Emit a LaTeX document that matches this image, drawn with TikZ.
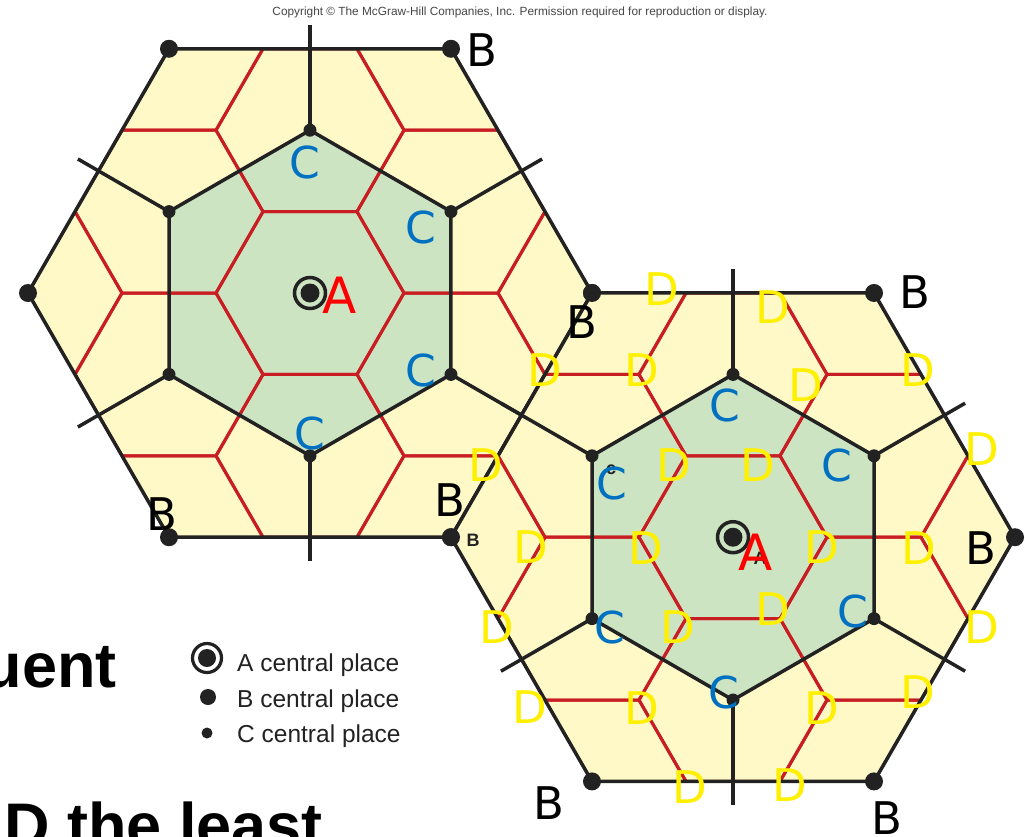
\documentclass[tikz,border=0pt]{standalone}
\usepackage{fontspec}
\setmainfont{DejaVu Sans}
\newfontfamily\arialf{Liberation Sans}
\definecolor{hexyellow}{RGB}{255,249,200}
\definecolor{hexgreen}{RGB}{205,228,195}
\definecolor{cellred}{RGB}{200,30,35}
\definecolor{linedark}{RGB}{34,34,34}
\definecolor{cblue}{RGB}{0,112,192}
\definecolor{dyellow}{RGB}{255,240,0}
\definecolor{copygray}{RGB}{70,70,70}
\tikzset{
  blk/.style={draw=linedark, line width=3.5pt, line join=round},
  redl/.style={draw=cellred, line width=3pt, line join=round},
  lblB/.style={text=black, font=\fontsize{45}{45}\selectfont, inner sep=0pt},
  lblC/.style={text=cblue, font=\fontsize{44}{44}\selectfont, inner sep=0pt},
  lblD/.style={text=dyellow, font=\fontsize{45}{45}\selectfont, inner sep=0pt},
  lblA/.style={text=red, font=\fontsize{50}{50}\selectfont, inner sep=0pt},
  tinylbl/.style={text=linedark, font=\arialf\bfseries\fontsize{18}{18}\selectfont, inner sep=0pt},
  legtxt/.style={text=linedark, font=\arialf\fontsize{24.5}{24.5}\selectfont, inner sep=0pt, anchor=base west},
  bigtxt/.style={text=black, font=\arialf\bfseries\fontsize{63}{63}\selectfont, inner sep=0pt},
}
\newcommand{\placemap}[2]{%
\begin{scope}[shift={(#1,#2)}]
  \fill[hexyellow] (0:282)--(60:282)--(120:282)--(180:282)--(240:282)--(300:282)--cycle;
  \fill[hexgreen] (30:162.8)--(90:162.8)--(150:162.8)--(210:162.8)--(270:162.8)--(330:162.8)--cycle;
  \begin{scope}
    \clip (0:282)--(60:282)--(120:282)--(180:282)--(240:282)--(300:282)--cycle;
    \draw[redl] (0:94)--(60:94)--(120:94)--(180:94)--(240:94)--(300:94)--cycle;
    \foreach \a in {30,90,150,210,270,330}{
      \draw[redl,shift={(\a:162.8)}] (0:94)--(60:94)--(120:94)--(180:94)--(240:94)--(300:94)--cycle;}
    \foreach \a in {0,60,120,180,240,300}{
      \draw[redl,shift={(\a:282)}] (0:94)--(60:94)--(120:94)--(180:94)--(240:94)--(300:94)--cycle;}
  \end{scope}
  \draw[blk] (0:282)--(60:282)--(120:282)--(180:282)--(240:282)--(300:282)--cycle;
  \draw[blk] (30:162.8)--(90:162.8)--(150:162.8)--(210:162.8)--(270:162.8)--(330:162.8)--cycle;
  \foreach \a in {30,90,150,210,270,330}{\draw[blk] (\a:162.8)--(\a:268);}
  \foreach \a in {0,60,120,180,240,300}{\fill[linedark] (\a:282) circle (9);}
  \foreach \a in {30,90,150,210,270,330}{\fill[linedark] (\a:162.8) circle (6.5);}
  \draw[linedark, line width=3.5pt] (0,0) circle (15.5);
  \fill[linedark] (0,0) circle (9.5);
\end{scope}}
\begin{document}
\begin{tikzpicture}[x=1pt,y=-1pt]
\useasboundingbox (0,0) rectangle (1025,836);
\fill[white] (0,0) rectangle (1025,836);
\node[inner sep=0pt, text=copygray] (copy) at (520,12.5) {\resizebox{495pt}{!}{\arialf Copyright \textcopyright{} The McGraw-Hill Companies, Inc. Permission required for reproduction or display.}};
\placemap{310}{293}
\placemap{733}{537.2}
% left map labels
\node[lblB] (lb1) at (482,50) {B};
\node[lblB] (lb2) at (582,322) {B};
\node[lblB] (lb3) at (162,514) {B};
\node[lblB] (lb4) at (450,500) {B};
\node[tinylbl] (lbs) at (473,540) {B};
\node[lblC] (lc1) at (305,162) {C};
\node[lblC] (lc2) at (421,227) {C};
\node[lblC] (lc3) at (421,370) {C};
\node[lblC] (lc4) at (310,433) {C};
\node[lblA] (la1) at (340,295) {A};
% right map labels
\node[tinylbl] (rcs) at (611,470) {c};
\node[tinylbl] (ras) at (760,558) {A};
\node[lblC] (rc1) at (725,405) {C};
\node[lblC] (rc2) at (612,483) {C};
\node[lblC] (rc3) at (837,465) {C};
\node[lblC] (rc4) at (610,627) {C};
\node[lblC] (rc5) at (853,611) {C};
\node[lblC] (rc6) at (724,692) {C};
\node[lblA] (ra1) at (756,552) {A};
\node[lblB] (rb1) at (915,292) {B};
\node[lblB] (rb2) at (981,548) {B};
\node[lblB] (rb3) at (549,803) {B};
\node[lblB] (rb4) at (887,818) {B};
\node[lblD] (d1) at (662,289) {D};
\node[lblD] (d2) at (773,307) {D};
\node[lblD] (d3) at (642,370) {D};
\node[lblD] (d4) at (806,385) {D};
\node[lblD] (d5) at (918,370) {D};
\node[lblD] (d6) at (545,370) {D};
\node[lblD] (d7) at (486,465) {D};
\node[lblD] (d8) at (674,465) {D};
\node[lblD] (d9) at (758,465) {D};
\node[lblD] (d10) at (982,449) {D};
\node[lblD] (d11) at (531,547) {D};
\node[lblD] (d12) at (646,548) {D};
\node[lblD] (d13) at (822,547) {D};
\node[lblD] (d14) at (919,548) {D};
\node[lblD] (d15) at (497,627) {D};
\node[lblD] (d16) at (678,627) {D};
\node[lblD] (d17) at (773,609) {D};
\node[lblD] (d18) at (982,627) {D};
\node[lblD] (d19) at (530,707) {D};
\node[lblD] (d20) at (642,708) {D};
\node[lblD] (d21) at (822,708) {D};
\node[lblD] (d22) at (918,692) {D};
\node[lblD] (d23) at (690,787) {D};
\node[lblD] (d24) at (790,785) {D};
% legend
\draw[linedark, line width=3.2pt] (207,658) circle (14.5);
\fill[linedark] (207,658) circle (9);
\fill[linedark] (208,697) circle (8);
\fill[linedark] (207,733) circle (5.5);
\node[legtxt] (leg1) at (237,671) {A central place};
\node[legtxt] (leg2) at (237,707) {B central place};
\node[legtxt] (leg3) at (237,742) {C central place};
% large text
\node[bigtxt, anchor=base east] (t1) at (117,687) {uent};
\node[bigtxt, anchor=base west] (t2) at (4,847) {D the least};
\end{tikzpicture}
\end{document}
